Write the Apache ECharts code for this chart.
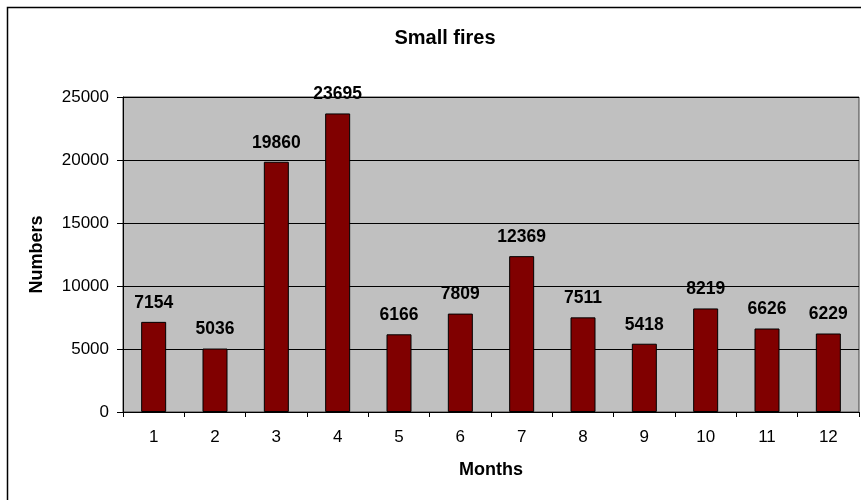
<!DOCTYPE html>
<html>
<head>
<meta charset="utf-8">
<script src="https://cdn.jsdelivr.net/npm/echarts@6/dist/echarts.min.js"></script>
<style>
  html, body { margin: 0; padding: 0; background: #fff; }
  #chart { width: 861px; height: 500px; }
</style>
</head>
<body>
<div id="chart"></div>
<script>
// months 1..12 and number of small fires
var months = ['1', '2', '3', '4', '5', '6', '7', '8', '9', '10', '11', '12'];
var fires = [7154, 5036, 19860, 23695, 6166, 7809, 12369, 7511, 5418, 8219, 6626, 6229];
var yTicks = [0, 5000, 10000, 15000, 20000, 25000];

var font = 'Liberation Sans, Arial, sans-serif';
var myChart = echarts.init(document.getElementById('chart'));

var option = {
  backgroundColor: '#fff',
  animation: false,
  title: {
    text: 'Small fires',
    left: 440,
    top: 23,
    textAlign: 'center',
    textStyle: { fontFamily: font, fontSize: 20, fontWeight: 'bold', color: '#000' }
  },
  graphic: [
    {
      type: 'rect',
      shape: { x: 7.5, y: 7.5, width: 900, height: 600 },
      style: { fill: 'none', stroke: '#000', lineWidth: 1.5 },
      silent: true
    }
  ],
  grid: {
    left: 123,
    right: 2,
    top: 97,
    bottom: 88,
    show: true,
    backgroundColor: '#c0c0c0',
    borderColor: '#404040',
    borderWidth: 1
  },
  xAxis: {
    type: 'category',
    data: months,
    name: 'Months',
    nameLocation: 'middle',
    nameGap: 49,
    nameTextStyle: { fontFamily: font, fontSize: 18, fontWeight: 'bold', color: '#000' },
    axisLine: { lineStyle: { color: '#000', width: 1 } },
    axisTick: { show: true, length: 5, lineStyle: { color: '#000' } },
    axisLabel: { margin: 17, fontFamily: font, fontSize: 17, color: '#000' }
  },
  yAxis: {
    type: 'value',
    min: yTicks[0],
    max: yTicks[yTicks.length - 1],
    interval: 5000,
    name: 'Numbers',
    nameLocation: 'middle',
    nameGap: 77,
    nameTextStyle: { fontFamily: font, fontSize: 18, fontWeight: 'bold', color: '#000' },
    axisLine: { show: true, lineStyle: { color: '#000', width: 1 } },
    axisTick: { show: true, length: 6, lineStyle: { color: '#000' } },
    axisLabel: {
      margin: 14,
      fontFamily: font,
      fontSize: 17,
      color: '#000',
      formatter: function (v) { return String(v); }
    },
    splitLine: { show: true, lineStyle: { color: '#000', width: 1 } }
  },
  series: [
    {
      type: 'bar',
      data: fires,
      barWidth: 25,
      itemStyle: { color: '#800000', borderColor: '#000', borderWidth: 1 },
      label: {
        show: true,
        position: 'top',
        distance: 10,
        fontFamily: font,
        fontSize: 17.5,
        fontWeight: 'bold',
        color: '#000'
      }
    }
  ]
};

myChart.setOption(option);
window.addEventListener('resize', function () {
  myChart.resize();
});
</script>
</body>
</html>
